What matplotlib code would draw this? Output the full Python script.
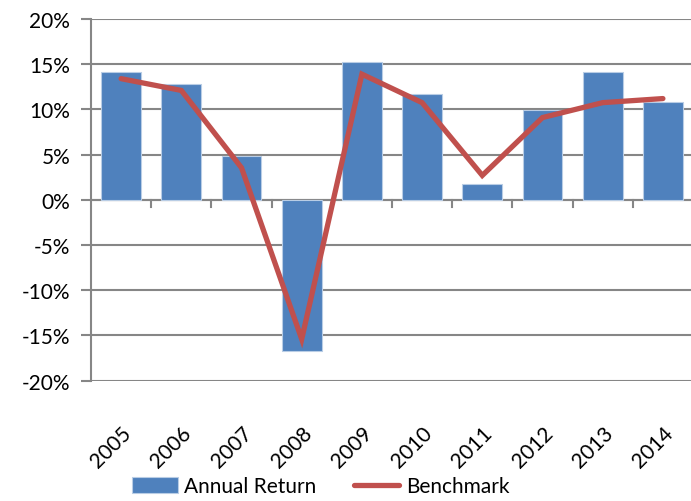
import matplotlib
matplotlib.use("Agg")
import matplotlib.pyplot as plt
from matplotlib.ticker import FuncFormatter, MultipleLocator
import numpy as np

years = ["2005", "2006", "2007", "2008", "2009", "2010", "2011", "2012", "2013", "2014"]
annual_return = [14.15, 12.85, 4.85, -16.7, 15.25, 11.75, 1.8, 9.95, 14.15, 10.85]
benchmark = [13.4, 12.1, 3.55, -15.4, 13.9, 10.75, 2.7, 9.1, 10.75, 11.2]

plt.rcParams['font.family'] = ['Lato', 'DejaVu Sans']
FS = 15

fig = plt.figure(figsize=(6.91, 5.02), dpi=100)
ax = fig.add_axes([91/691, 1-381.7/502, 602/691, (381.7-20)/502])

x = np.arange(len(years))
grey = '#868686'
bars = ax.bar(x, annual_return, width=0.66, color='#4F81BD', edgecolor='#B9CDE5', linewidth=0.8,
              label='Annual Return', zorder=2)
line, = ax.plot(x, benchmark, color='#C0504D', linewidth=3.8, solid_capstyle='round',
                solid_joinstyle='miter', label='Benchmark', zorder=3)

ax.set_xlim(-0.5, len(years) - 0.5)
ax.set_ylim(-20, 20)
ax.yaxis.set_major_locator(MultipleLocator(5))
ax.yaxis.set_major_formatter(FuncFormatter(lambda v, p: f"{v:.0f}%"))
ax.grid(axis='y', color=grey, linewidth=1.5, zorder=0)
ax.set_axisbelow(True)

for s in ['top', 'right', 'bottom']:
    ax.spines[s].set_visible(False)
ax.spines['left'].set_color(grey)
ax.spines['left'].set_linewidth(1.5)
ax.tick_params(axis='y', colors=grey, length=7, width=1.5, labelcolor='black', labelsize=FS, pad=8)

# x axis at zero with ticks between categories
ax.axhline(0, color=grey, linewidth=1.5, zorder=1)
for b in np.arange(0.5, len(years) - 0.5, 1.0):
    ax.plot([b, b], [0, -0.8], color=grey, linewidth=1.5, zorder=1, clip_on=False)

ax.set_xticks(x)
ax.set_xticklabels(years, rotation=45, ha='right', rotation_mode='anchor', fontsize=FS)
ax.tick_params(axis='x', length=0, pad=30)

leg = fig.legend(handles=[bars, line], labels=['Annual Return', 'Benchmark'],
                 loc='lower left', bbox_to_anchor=(113/691, -0.028), ncol=2, frameon=False,
                 fontsize=FS, handlelength=2.2, handleheight=0.75, columnspacing=1.8, handletextpad=0.3)

fig.savefig("out.png", dpi=100)
